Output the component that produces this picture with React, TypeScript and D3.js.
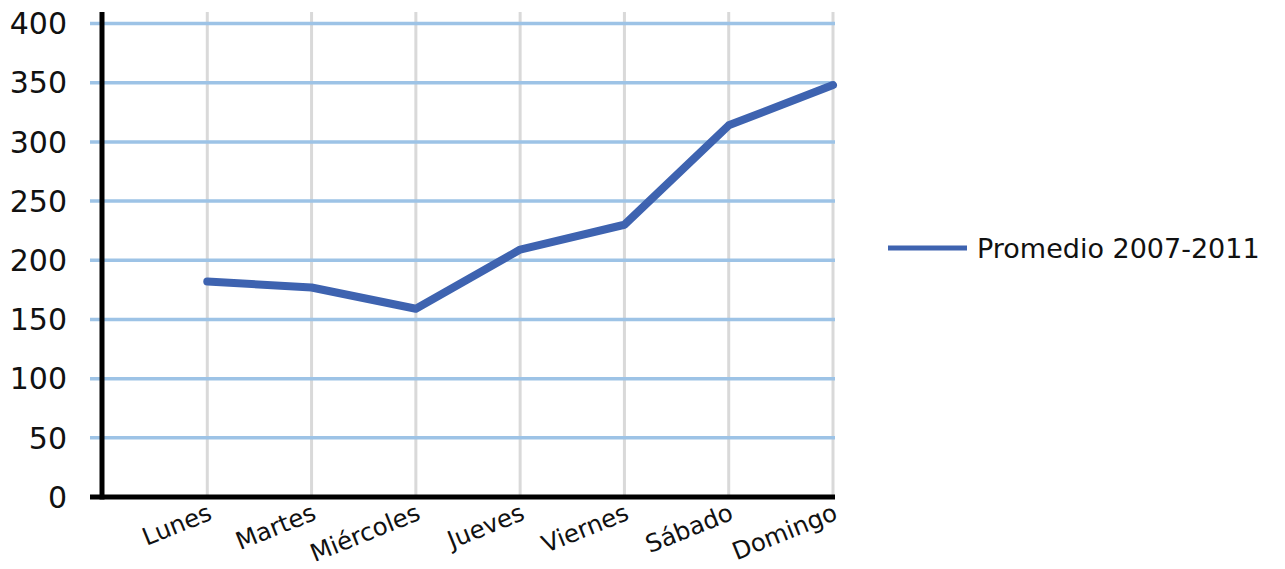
import React from "react";
import * as d3 from "d3";

const categories = ["Lunes", "Martes", "Miércoles", "Jueves", "Viernes", "Sábado", "Domingo"];
const values = [182, 177, 159, 209, 230, 314, 348];
const yTicks = [0, 50, 100, 150, 200, 250, 300, 350, 400];
const seriesName = "Promedio 2007-2011";

export default function App() {
  const W = 1285, H = 569;
  const x = d3.scaleLinear().domain([0, categories.length]).range([103, 833]);
  const y = d3.scaleLinear().domain([0, 400]).range([497, 23.5]);
  const line = d3.line<number>().x((_, i) => x(i + 1)).y((d) => y(d));
  const font = "'DejaVu Sans', Verdana, sans-serif";
  return (
    <svg width={W} height={H} style={{ position: "absolute", left: 0, top: 0, background: "#fff" }}>
      {categories.map((c, i) => (
        <line key={"v" + c} x1={x(i + 1)} x2={x(i + 1)} y1={12} y2={y(0)} stroke="#d9d9d9" strokeWidth={3} />
      ))}
      {yTicks.filter((t) => t > 0).map((t) => (
        <line key={"h" + t} x1={90} x2={835} y1={y(t)} y2={y(t)} stroke="#9dc3e6" strokeWidth={3.5} />
      ))}
      <line x1={102} x2={102} y1={12} y2={y(0) + 2.5} stroke="#000" strokeWidth={5} />
      <line x1={90} x2={835} y1={y(0)} y2={y(0)} stroke="#000" strokeWidth={5} />
      {yTicks.map((t) => (
        <text key={"t" + t} x={67} y={y(t)} dy="0.36em" textAnchor="end" fontFamily={font} fontSize={30} fill="#111">
          {t}
        </text>
      ))}
      {categories.map((c, i) => (
        <text
          key={"x" + c}
          transform={`translate(${x(i + 1) + 6},${y(0) + 22}) rotate(-22)`}
          textAnchor="end"
          fontFamily={font}
          fontSize={24.5}
          fill="#111"
        >
          {c}
        </text>
      ))}
      <path d={line(values) || ""} fill="none" stroke="#3e63b0" strokeWidth={8} strokeLinejoin="round" strokeLinecap="round" />
      <line x1={888} x2={967} y1={248} y2={248} stroke="#3e63b0" strokeWidth={5} />
      <text x={977} y={248} dy="0.36em" fontFamily={font} fontSize={27} fill="#111">
        {seriesName}
      </text>
    </svg>
  );
}
